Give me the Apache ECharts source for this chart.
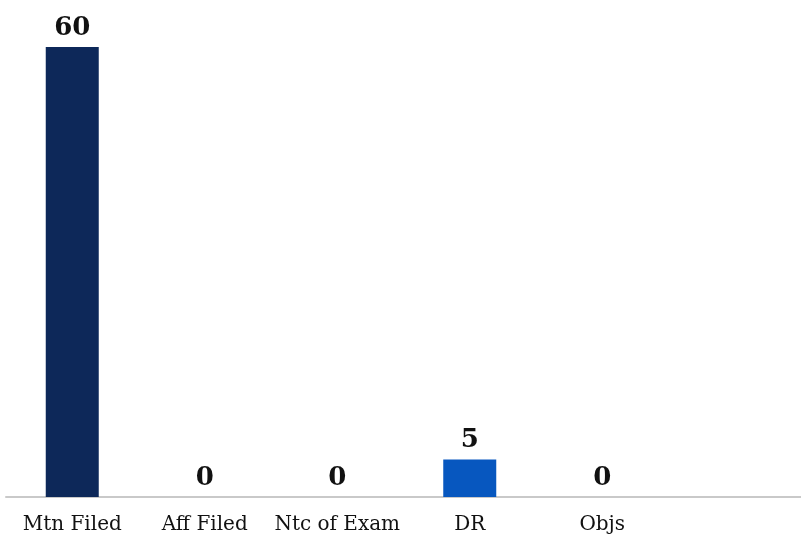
<!DOCTYPE html>
<html>
<head>
<meta charset="utf-8">
<script src="https://cdn.jsdelivr.net/npm/echarts@6/dist/echarts.min.js"></script>
<style>
    html, body { margin: 0; padding: 0; background: #ffffff; }
    #chart { width: 801px; height: 544px; }
</style>
</head>
<body>
<div id="chart"></div>
<script>
// categories (last slot is empty in the original)
const categories = ['Mtn Filed', 'Aff Filed', 'Ntc of Exam', 'DR', 'Objs', ''];
const counts = [60, 0, 0, 5, 0, null];
const barColors = ['#0d2859', '#0d2859', '#0d2859', '#0757bf', '#0d2859', '#0d2859'];

const myChart = echarts.init(document.getElementById('chart'));

let option = {
    animation: false,
    grid: {
        left: 6,
        right: 0,
        top: 47,
        bottom: 47,
        containLabel: false
    },
    xAxis: {
        type: 'category',
        data: categories,
        axisTick: { show: false },
        axisLine: {
            lineStyle: { color: '#c9c9c9', width: 2 }
        },
        axisLabel: {
            color: '#111111',
            fontFamily: 'DejaVu Serif',
            fontSize: 20,
            margin: 18,
            interval: 0
        }
    },
    yAxis: {
        type: 'value',
        min: 0,
        max: 60,
        show: false,
        splitLine: { show: false }
    },
    series: [
        {
            type: 'bar',
            barWidth: 53,
            data: counts.map((v, i) => ({
                value: v,
                itemStyle: { color: barColors[i] }
            })),
            label: {
                show: true,
                position: 'top',
                distance: 6,
                color: '#111111',
                fontFamily: 'DejaVu Serif',
                fontWeight: 'bold',
                fontSize: 26,
                formatter: (p) => (p.value === null || p.value === undefined ? '' : p.value)
            }
        }
    ]
};

myChart.setOption(option);
</script>
</body>
</html>
